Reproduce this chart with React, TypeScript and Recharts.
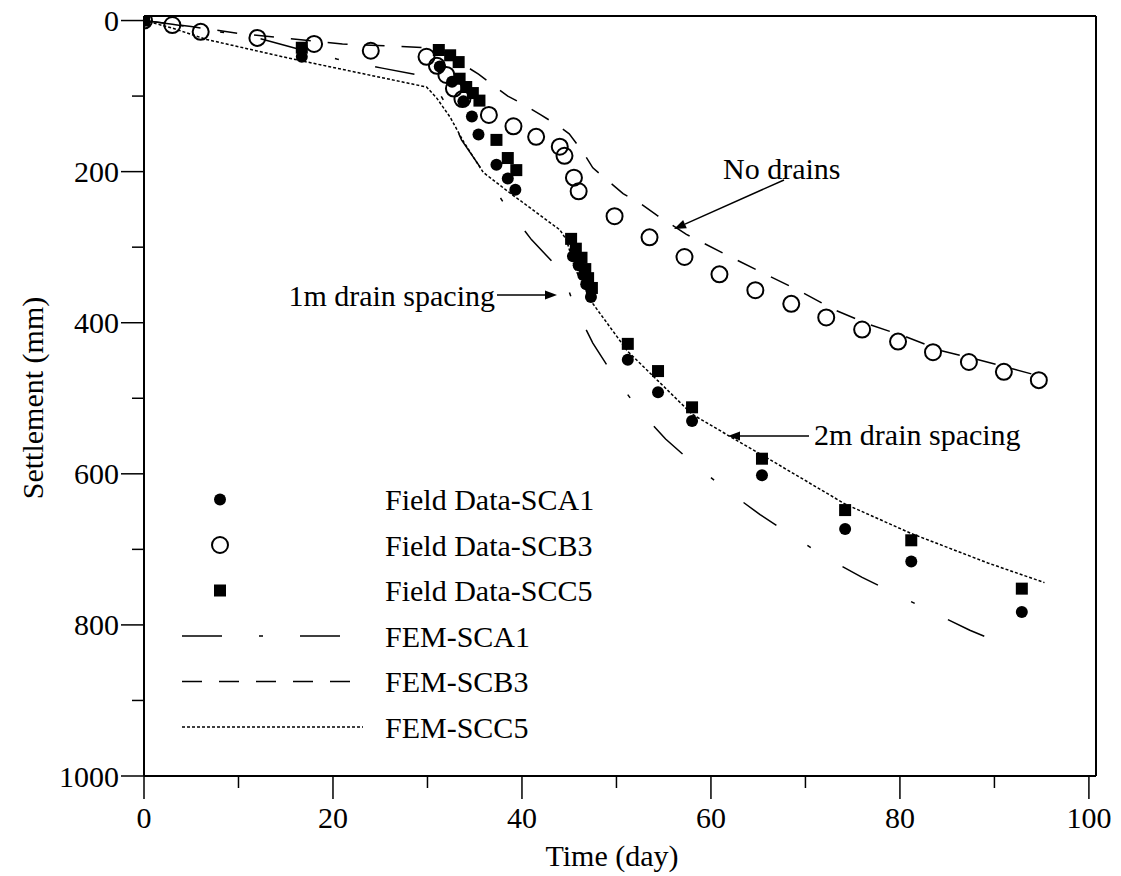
import React from "react";
import {
  ComposedChart,
  Line,
  Scatter,
  XAxis,
  YAxis,
  ReferenceLine,
  Legend,
  Customized,
} from "recharts";

// [time (day), settlement (mm)]
const fieldSCA1 = [
  [0, 0], [16.7, 48], [31.3, 61], [32.6, 81], [33.8, 107], [34.7, 127], [35.4, 151],
  [37.3, 191], [38.5, 209], [39.3, 224], [45.4, 312], [46.0, 324], [46.5, 337],
  [46.8, 349], [47.3, 366], [51.2, 449], [54.4, 492], [58.0, 530], [65.4, 602],
  [74.2, 673], [81.2, 716], [92.9, 783],
];

const fieldSCB3 = [
  [0, 0], [3, 6], [6, 15], [12, 23], [18, 31], [24, 40], [29.9, 48], [31.0, 60],
  [32.0, 72], [32.8, 90], [33.7, 104], [36.5, 125], [39.1, 140], [41.5, 154],
  [44.0, 167], [44.5, 179], [45.5, 208], [46.0, 226], [49.8, 259], [53.5, 287],
  [57.2, 313], [60.9, 336], [64.7, 357], [68.5, 375], [72.2, 393], [76.0, 409],
  [79.8, 425], [83.5, 439], [87.3, 452], [91.0, 465], [94.7, 476],
];

const fieldSCC5 = [
  [0, 0], [16.7, 36], [31.2, 39], [32.4, 46], [33.3, 55], [33.4, 77], [34.1, 88],
  [34.8, 96], [35.5, 106], [37.3, 158], [38.5, 182], [39.4, 198], [45.2, 289],
  [45.7, 302], [46.3, 314], [46.7, 329], [47.0, 341], [47.4, 354], [51.2, 428],
  [54.4, 464], [58.0, 512], [65.4, 580], [74.2, 648], [81.2, 688], [92.9, 752],
];

const femSCA1 = [
  [0, 0], [3, 5], [12, 23], [16.7, 39], [20.4, 51], [25.2, 63], [29, 72], [30.5, 80],
  [32, 112], [33.6, 158], [35.9, 200], [38.2, 244], [41, 290], [43.8, 327],
  [44.6, 345], [45.5, 377], [47.5, 427], [49.6, 468], [52.3, 514], [55.2, 554],
  [58.2, 587], [61.6, 621], [65.2, 654], [68.5, 681], [72.2, 711], [76, 737],
  [79.7, 760], [83.6, 784], [87.4, 807], [91.4, 828],
];

const femSCB3 = [
  [0, 0], [5, 8], [10, 17], [21, 31], [30, 36], [31.5, 40], [33, 52], [35.4, 71],
  [37, 86], [38.5, 100], [40.3, 112], [42, 125], [43.7, 138], [45, 150], [46.5, 175],
  [47.5, 195], [49.1, 212], [50.7, 229], [52.5, 242], [54.3, 258], [55.8, 270],
  [57.4, 283], [58.8, 292], [62.1, 313], [65.8, 336], [69.4, 358], [73.1, 383],
  [76.7, 402], [80.7, 419], [84.4, 437], [88.3, 449], [91.9, 461], [94, 468],
];

const femSCC5 = [
  [0, 0], [3, 10], [6.6, 25], [15.4, 50], [29.9, 88], [31, 103], [32.4, 128],
  [33.8, 160], [35.9, 201], [38.7, 228], [44, 277], [44.7, 290], [45.6, 328],
  [47.4, 373], [51.2, 438], [54.4, 477], [58, 521], [61.8, 549], [65.4, 575],
  [74.2, 640], [81.2, 679], [89.3, 718], [95.3, 744],
];

const xTicks = [0, 10, 20, 30, 40, 50, 60, 70, 80, 90, 100];
const yTicks = [0, 100, 200, 300, 400, 500, 600, 700, 800, 900, 1000];

const legendItems = [
  { name: "Field Data-SCA1", kind: "dot" },
  { name: "Field Data-SCB3", kind: "ring" },
  { name: "Field Data-SCC5", kind: "square" },
  { name: "FEM-SCA1", kind: "dashdot" },
  { name: "FEM-SCB3", kind: "dash" },
  { name: "FEM-SCC5", kind: "dotted" },
];

const FONT = "'Liberation Serif', 'Times New Roman', serif";
const FS = 30;
const DASH_SCA1 = "40 37 4 37";
const DASH_SCB3 = "20 17";
const DASH_SCC5 = "3 2";

const toPts = (a: number[][]) => a.map(([x, y]) => ({ x, y }));

const FilledDot = (p: any) => <circle cx={p.cx} cy={p.cy} r={6} fill="#000" />;
const Ring = (p: any) => (
  <circle cx={p.cx} cy={p.cy} r={8} fill="none" stroke="#000" strokeWidth={2} />
);
const Square = (p: any) => <rect x={p.cx - 6} y={p.cy - 6} width={12} height={12} fill="#000" />;

const XTick = ({ x, y, payload }: any) => {
  const major = payload.value % 20 === 0;
  return (
    <g>
      <line x1={x} x2={x} y1={y} y2={y + (major ? 23 : 12)} stroke="#000" strokeWidth={1.5} />
      {major && (
        <text x={x} y={y + 41} textAnchor="middle" dominantBaseline="central"
          fontFamily={FONT} fontSize={FS} fill="#000">
          {payload.value}
        </text>
      )}
    </g>
  );
};

const YTick = ({ x, y, payload }: any) => {
  const major = payload.value % 200 === 0;
  return (
    <g>
      <line x1={x - (major ? 23 : 12)} x2={x} y1={y} y2={y} stroke="#000" strokeWidth={1.5} />
      {major && (
        <text x={x - 25} y={y} textAnchor="end" dominantBaseline="central"
          fontFamily={FONT} fontSize={FS} fill="#000">
          {payload.value}
        </text>
      )}
    </g>
  );
};

const LegendBox = () => (
  <svg width={560} height={280}>
    {legendItems.map((it, i) => {
      const cy = 26.5 + i * 45.5;
      let mark: React.ReactNode = null;
      if (it.kind === "dot") mark = <circle cx={52} cy={cy} r={6} fill="#000" />;
      if (it.kind === "ring") mark = <circle cx={52} cy={cy} r={8} fill="none" stroke="#000" strokeWidth={2} />;
      if (it.kind === "square") mark = <rect x={46} y={cy - 6} width={12} height={12} fill="#000" />;
      if (it.kind === "dashdot")
        mark = <line x1={14} x2={176} y1={cy} y2={cy} stroke="#000" strokeWidth={1.5} strokeDasharray={DASH_SCA1} />;
      if (it.kind === "dash")
        mark = <line x1={14} x2={195} y1={cy} y2={cy} stroke="#000" strokeWidth={1.5} strokeDasharray={DASH_SCB3} />;
      if (it.kind === "dotted")
        mark = <line x1={14} x2={195} y1={cy} y2={cy} stroke="#000" strokeWidth={1.5} strokeDasharray={DASH_SCC5} />;
      return (
        <g key={it.name}>
          {mark}
          <text x={217} y={cy} dominantBaseline="central" fontFamily={FONT} fontSize={FS} fill="#000">
            {it.name}
          </text>
        </g>
      );
    })}
  </svg>
);

const Arrow = ({ x1, y1, x2, y2 }: { x1: number; y1: number; x2: number; y2: number }) => {
  const a = Math.atan2(y2 - y1, x2 - x1);
  const L = 12;
  const W = 4.5;
  const bx = x2 - L * Math.cos(a);
  const by = y2 - L * Math.sin(a);
  const px = -Math.sin(a) * W;
  const py = Math.cos(a) * W;
  return (
    <g>
      <line x1={x1} y1={y1} x2={bx} y2={by} stroke="#000" strokeWidth={1.5} />
      <polygon points={`${x2},${y2} ${bx + px},${by + py} ${bx - px},${by - py}`} fill="#000" />
    </g>
  );
};

const Annotations = () => (
  <g fontFamily={FONT} fontSize={FS} fill="#000">
    <text x={32} y={398} transform="rotate(-90 32 398)" textAnchor="middle" dominantBaseline="central">
      Settlement (mm)
    </text>
    <text x={612} y={855} textAnchor="middle" dominantBaseline="central">Time (day)</text>
    <text x={723} y={168} dominantBaseline="central">No drains</text>
    <Arrow x1={784} y1={180} x2={674} y2={229} />
    <text x={495} y={295} textAnchor="end" dominantBaseline="central">1m drain spacing</text>
    <Arrow x1={497} y1={295} x2={557} y2={295} />
    <text x={814} y={434} dominantBaseline="central">2m drain spacing</text>
    <Arrow x1={809} y1={436} x2={728} y2={436} />
  </g>
);

export default function App() {
  return (
    <div style={{ position: "absolute", left: 0, top: 0 }}>
      <ComposedChart
        width={1121}
        height={876}
        margin={{ top: 16, right: 25, bottom: 0, left: 0 }}
      >
        <XAxis
          type="number"
          dataKey="x"
          domain={[0, 100.75]}
          ticks={xTicks}
          interval={0}
          allowDataOverflow
          height={100}
          tickLine={false}
          tickSize={0}
          tickMargin={0}
          tick={<XTick />}
          axisLine={{ stroke: "#000", strokeWidth: 2 }}
        />
        <YAxis
          type="number"
          dataKey="y"
          reversed
          domain={[-6, 1000]}
          ticks={yTicks}
          interval={0}
          allowDataOverflow
          width={144}
          tickLine={false}
          tickSize={0}
          tickMargin={0}
          tick={<YTick />}
          axisLine={{ stroke: "#000", strokeWidth: 2 }}
        />
        <ReferenceLine x={100.75} stroke="#000" strokeWidth={2} />
        <ReferenceLine y={-6} stroke="#000" strokeWidth={2} />
        <Line data={toPts(femSCA1)} dataKey="y" type="linear" stroke="#000" strokeWidth={1.5}
          strokeDasharray={DASH_SCA1} dot={false} activeDot={false} isAnimationActive={false} />
        <Line data={toPts(femSCB3)} dataKey="y" type="linear" stroke="#000" strokeWidth={1.5}
          strokeDasharray={DASH_SCB3} dot={false} activeDot={false} isAnimationActive={false} />
        <Line data={toPts(femSCC5)} dataKey="y" type="linear" stroke="#000" strokeWidth={1.5}
          strokeDasharray={DASH_SCC5} dot={false} activeDot={false} isAnimationActive={false} />
        <Scatter data={toPts(fieldSCB3)} shape={Ring} isAnimationActive={false} />
        <Scatter data={toPts(fieldSCC5)} shape={Square} isAnimationActive={false} />
        <Scatter data={toPts(fieldSCA1)} shape={FilledDot} isAnimationActive={false} />
        <Legend
          layout="vertical"
          align="center"
          verticalAlign="middle"
          content={() => <LegendBox />}
          wrapperStyle={{ left: 168, top: 473, width: 560, height: 280 }}
        />
        <Customized component={Annotations} />
      </ComposedChart>
    </div>
  );
}
